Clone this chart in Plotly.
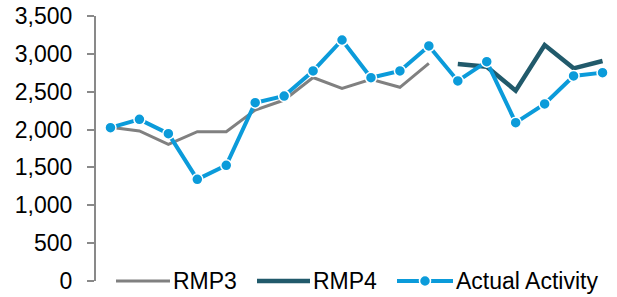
import plotly.graph_objects as go

periods = [f"P{i}" for i in range(1, 19)]
rmp3 = [2030, 1981, 1805, 1972, 1972, 2258, 2390, 2688, 2545, 2663, 2558, 2875,
        None, None, None, None, None, None]
rmp4 = [None] * 12 + [2866, 2831, 2514, 3117, 2809, 2906]
actual = [2025, 2135, 1946, 1343, 1528, 2355, 2443, 2774, 3183, 2685, 2774, 3104,
          2642, 2897, 2091, 2338, 2708, 2752]
y_ticks = [0, 500, 1000, 1500, 2000, 2500, 3000, 3500]

GRAY = "#808080"
TEAL = "#215A6B"
BLUE = "#0B9BDA"
FONT = "Liberation Sans, Arial, sans-serif"
FS = 23

W, H = 617, 297
ML, MR, MT, MB = 96, 0, 16, 16
PW, PH = W - ML - MR, H - MT - MB

fig = go.Figure()
fig.add_trace(go.Scatter(x=periods, y=rmp3, name="RMP3", mode="lines",
                         line=dict(color=GRAY, width=3)))
fig.add_trace(go.Scatter(x=periods, y=rmp4, name="RMP4", mode="lines",
                         line=dict(color=TEAL, width=4.5)))
fig.add_trace(go.Scatter(x=periods, y=actual, name="Actual Activity", mode="lines+markers",
                         line=dict(color=BLUE, width=4),
                         marker=dict(color=BLUE, size=11, line=dict(color="white", width=1.5))))

# custom legend (longer symbol lines, as in the reference)
def px(xpix):
    return (xpix - ML) / PW

def py(ypix):
    return (H - MB - ypix) / PH

legend_y = 281
legend_items = [
    (fig.data[0].name, GRAY, 3, 116, 170, False),
    (fig.data[1].name, TEAL, 4.5, 257, 310, False),
    (fig.data[2].name, BLUE, 4, 397, 453, True),
]
shapes, annotations = [], []
for name, color, width, x0, x1, marker in legend_items:
    shapes.append(dict(type="line", xref="paper", yref="paper",
                       x0=px(x0), x1=px(x1), y0=py(legend_y), y1=py(legend_y),
                       line=dict(color=color, width=width), layer="above"))
    if marker:
        cx = (x0 + x1) / 2
        r = 5.5
        shapes.append(dict(type="circle", xref="paper", yref="paper",
                           x0=px(cx - r), x1=px(cx + r), y0=py(legend_y + r), y1=py(legend_y - r),
                           fillcolor=color, line=dict(color="white", width=1.5), layer="above"))
    annotations.append(dict(text=name, xref="paper", yref="paper",
                            x=px(x1 + 1), y=py(legend_y), xanchor="left", yanchor="middle",
                            showarrow=False, font=dict(family=FONT, size=FS, color="#000000")))

fig.update_layout(
    width=W, height=H,
    margin=dict(l=ML, r=MR, t=MT, b=MB),
    paper_bgcolor="white", plot_bgcolor="white",
    font=dict(family=FONT, size=FS, color="#000000"),
    showlegend=False,
    shapes=shapes, annotations=annotations,
)
fig.update_xaxes(type="category", range=[-0.5, 17.5], showticklabels=False,
                 showline=False, showgrid=False, zeroline=False, ticks="")
fig.update_yaxes(range=[0, 3500], tickvals=y_ticks, tickformat=",d",
                 showline=True, linecolor="#898989", linewidth=2,
                 ticks="outside", ticklen=7, tickwidth=2, tickcolor="#898989",
                 showgrid=False, zeroline=False, ticklabelstandoff=10)

fig.write_html("out.html", config={"displayModeBar": False},
               post_script="document.body.style.margin='0';document.body.style.overflow='hidden';")
